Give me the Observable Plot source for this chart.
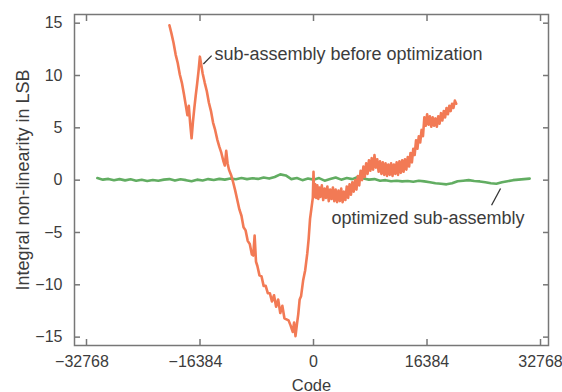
<!DOCTYPE html>
<html><head><meta charset="utf-8">
<script src="https://cdn.jsdelivr.net/npm/d3@7"></script>
<script src="https://cdn.jsdelivr.net/npm/@observablehq/plot@0.6"></script>
<style>body{margin:0;background:#fff}</style>
</head><body><div id="chart"></div>
<script>
// sub-assembly before optimization (orange)
const beforeCode = [-20800,-20500,-20200,-19900,-19600,-19300,-19000,-18700,-18400,-18200,-18000,-17800,-17600,-17400,-17200,-17000,-16800,-16600,-16400,-16200,-16000,-15700,-15400,-15100,-14800,-14500,-14200,-13900,-13600,-13300,-13000,-12800,-12600,-12400,-12200,-11900,-11600,-11300,-11000,-10700,-10400,-10100,-9800,-9500,-9200,-8900,-8700,-8500,-8300,-8100,-7800,-7500,-7200,-6900,-6600,-6300,-6000,-5700,-5400,-5100,-4800,-4500,-4200,-3900,-3600,-3300,-3000,-2800,-2600,-2400,-2200,-2000,-1800,-1500,-1200,-900,-700,-500,-300,-100,0,100,250,400,550,700,850,1000,1200,1400,1600,1800,2000,2200,2400,2600,2800,3000,3200,3400,3600,3800,4000,4200,4400,4600,4800,5000,5200,5400,5600,5800,6000,6200,6400,6600,6800,7000,7200,7400,7600,7800,8000,8200,8400,8600,8800,9000,9200,9400,9600,9800,10000,10200,10400,10600,10800,11000,11200,11400,11600,11800,12000,12200,12400,12600,12800,13000,13200,13400,13600,13800,14000,14200,14400,14600,14800,15000,15200,15400,15600,15800,16000,16200,16400,16600,16800,17000,17200,17400,17600,17800,18000,18200,18400,18600,18800,19000,19200,19400,19600,19800,20000,20200,20400,20600];
const beforeINL = [14.8,14.0,13.1,12.0,11.2,10.1,9.3,8.2,7.0,6.2,7.1,5.4,4.0,5.6,6.9,8.1,9.2,10.4,11.8,11.0,10.2,9.3,8.5,7.4,6.6,5.5,4.8,3.9,3.2,2.6,1.8,1.4,2.8,1.6,1.0,0.5,-0.2,-1.0,-1.9,-2.8,-3.4,-4.5,-4.8,-5.8,-6.1,-7.1,-7.2,-5.3,-7.8,-8.2,-9.1,-9.2,-10.1,-10.1,-10.8,-10.8,-11.6,-11.0,-12.1,-11.4,-12.7,-12.0,-13.2,-13.3,-13.4,-13.9,-14.5,-13.6,-14.9,-13.8,-12.8,-11.4,-11.1,-9.6,-8.6,-7.0,-5.6,-3.7,-2.7,-1.7,0.8,-1.6,-0.4,-1.7,-0.5,-1.8,-0.7,-1.6,-0.5,-1.9,-0.8,-1.7,-0.6,-2.0,-0.9,-1.8,-0.7,-2.0,-0.9,-2.1,-1.0,-2.0,-0.8,-2.1,-1.1,-1.9,-0.6,-1.7,-0.4,-1.4,-0.2,-1.1,0.0,-0.9,0.4,-0.5,0.9,0.0,1.3,0.3,1.6,0.6,1.9,0.9,2.1,1.0,2.4,1.2,2.0,0.8,1.8,0.6,1.7,0.5,1.6,0.4,1.5,0.5,1.6,0.4,1.5,0.6,1.7,0.5,1.8,0.7,1.9,0.8,2.0,1.0,2.2,1.3,2.6,1.7,3.0,2.4,3.8,3.0,4.2,3.6,4.8,4.2,6.0,5.2,6.3,5.3,6.1,5.1,6.0,5.2,5.9,5.1,6.1,5.4,6.4,5.7,6.6,6.0,6.9,6.3,7.1,6.6,7.3,6.9,7.6,7.3];

// optimized sub-assembly (green)
const afterCode = [-31200,-30400,-29600,-28800,-28000,-27200,-26400,-25600,-24800,-24000,-23200,-22400,-21600,-20800,-20000,-19200,-18400,-17600,-16800,-16000,-15200,-14400,-13600,-12800,-12000,-11200,-10400,-9600,-8800,-8000,-7200,-6400,-5600,-4800,-4000,-3200,-2400,-1600,-800,0,800,1600,2400,3200,4000,4800,5600,6400,7200,8000,8800,9600,10400,11200,12000,12800,13600,14400,15200,16000,16800,17600,18400,19200,20000,20800,21600,22400,23200,24000,24800,25600,26400,27200,28000,28800,29600,30400,31200];
const afterINL = [0.2,0.05,0.12,0.0,0.1,-0.02,0.08,-0.05,0.04,-0.08,0.02,-0.06,0.05,0.1,-0.04,0.08,0.0,-0.1,0.05,-0.03,0.1,0.02,0.12,0.05,0.15,0.08,0.2,0.1,0.18,0.12,0.25,0.15,0.3,0.55,0.45,0.1,0.2,0.0,0.15,0.05,0.2,-0.05,0.1,0.25,0.05,0.2,0.1,0.3,0.15,0.05,0.1,-0.05,0.0,-0.1,-0.05,-0.12,-0.08,-0.15,-0.05,-0.12,-0.2,-0.3,-0.35,-0.4,-0.3,-0.1,-0.05,0.0,-0.08,-0.12,-0.2,-0.3,-0.35,-0.2,-0.1,0.0,0.05,0.1,0.15];

const xTicks = [-32768, -16384, 0, 16384, 32768];
const yTicks = [-15, -10, -5, 0, 5, 10, 15];

const noteText = ["sub-assembly before optimization", "optimized sub-assembly"];
const noteCode = [-14300, 2600];
const noteINL = [12, -3.6];
const pointerCode1 = [-15900, 25700];
const pointerINL1 = [11.1, -2.4];
const pointerCode2 = [-14700, 27000];
const pointerINL2 = [11.9, -0.8];

const before = beforeCode.map((c, i) => ({code: c, inl: beforeINL[i]}));
const after = afterCode.map((c, i) => ({code: c, inl: afterINL[i]}));
const notes = noteText.map((t, i) => ({text: t, code: noteCode[i], inl: noteINL[i]}));
const pointers = pointerCode1.map((c, i) => ({x1: c, y1: pointerINL1[i], x2: pointerCode2[i], y2: pointerINL2[i]}));

const fmt = d => d < 0 ? "\u2212" + (-d) : String(d);
const font = "'Liberation Sans', Arial, Helvetica, sans-serif";
const textColor = "#3c3c3c";
const axisColor = "#777";

const chart = Plot.plot({
  width: 562,
  height: 392,
  marginLeft: 74,
  marginRight: 14,
  marginTop: 14,
  marginBottom: 47,
  style: {fontFamily: font, fontSize: "16px", color: textColor, background: "#fff"},
  x: {domain: [-34500, 33920]},
  y: {domain: [-15.8, 15.83]},
  marks: [
    Plot.line(after, {x: "code", y: "inl", stroke: "#62ad62", strokeWidth: 2.6, strokeLinejoin: "round"}),
    Plot.line(before, {x: "code", y: "inl", stroke: "#f27a55", strokeWidth: 2.6, strokeLinejoin: "round"}),
    Plot.frame({stroke: axisColor, strokeWidth: 1.5}),
    // inward ticks on all four sides
    Plot.axisX({anchor: "bottom", ticks: xTicks, tickSize: -6, tickFormat: () => "", stroke: axisColor, strokeWidth: 1.5, label: null}),
    Plot.axisX({anchor: "top", ticks: xTicks, tickSize: -6, tickFormat: () => "", stroke: axisColor, strokeWidth: 1.5, label: null}),
    Plot.axisY({anchor: "left", ticks: yTicks, tickSize: -6, tickFormat: () => "", stroke: axisColor, strokeWidth: 1.5, label: null}),
    Plot.axisY({anchor: "right", ticks: yTicks, tickSize: -6, tickFormat: () => "", stroke: axisColor, strokeWidth: 1.5, label: null}),
    // tick labels (negative numbers centred on their digits)
    Plot.axisX({anchor: "bottom", ticks: xTicks.filter(d => d < 0), tickSize: 0, tickPadding: 10, dx: -4.5, tickFormat: fmt, fontSize: 16, fill: textColor, label: null}),
    Plot.axisX({anchor: "bottom", ticks: xTicks.filter(d => d >= 0), tickSize: 0, tickPadding: 10, tickFormat: fmt, fontSize: 16, fill: textColor, label: null}),
    Plot.axisX({anchor: "bottom", ticks: [], tickSize: 0, fontSize: 16.5, fill: textColor, label: "Code", labelAnchor: "center", labelOffset: 45, labelArrow: "none"}),
    Plot.axisY({anchor: "left", ticks: yTicks, tickSize: 0, tickPadding: 12, tickFormat: fmt, fontSize: 16, fill: textColor, label: null}),
    Plot.axisY({anchor: "left", ticks: [], tickSize: 0, fontSize: 18, fill: textColor, label: "Integral non-linearity in LSB", labelAnchor: "center", labelOffset: 58, labelArrow: "none"}),
    // annotations
    Plot.link(pointers, {x1: "x1", y1: "y1", x2: "x2", y2: "y2", stroke: "#333", strokeWidth: 1.3}),
    Plot.text(notes, {x: "code", y: "inl", text: "text", textAnchor: "start", fontSize: 18, fill: textColor, fontFamily: font})
  ]
});
document.getElementById("chart").appendChild(chart);
</script>
</body></html>
